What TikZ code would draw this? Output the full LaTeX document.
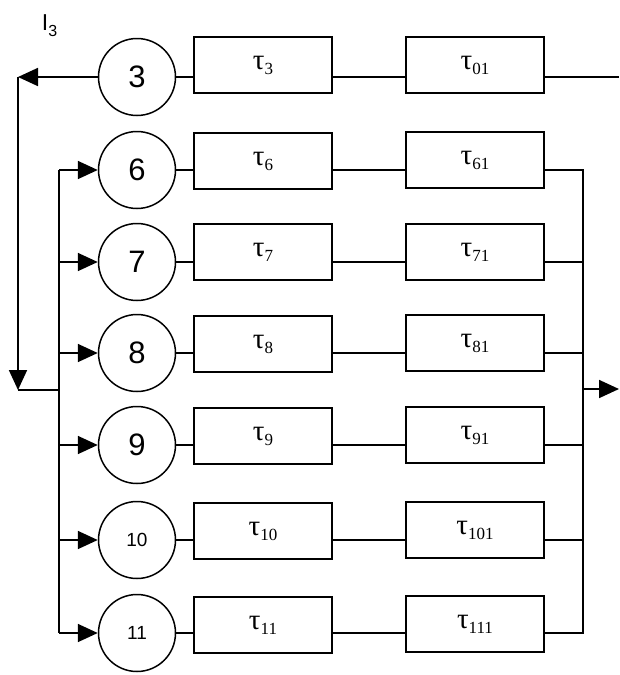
\documentclass[tikz,border=0pt]{standalone}
\usepackage{fontspec}
\setmainfont{Liberation Serif}
\setsansfont{Liberation Sans}
\usetikzlibrary{arrows.meta}
\newcommand\tlab[1]{τ\raisebox{-5pt}{\fontsize{17}{17}\selectfont #1}}
\begin{document}
\begin{tikzpicture}[x=1pt,y=-1pt,line width=1.8pt,
  circ/.style={circle,draw,line width=1.5pt,minimum size=77pt,inner sep=0pt,font=\sffamily\fontsize{31}{31}\selectfont},
  smallcirc/.style={circ,font=\sffamily\fontsize{19}{19}\selectfont},
  blk/.style={draw,minimum width=138pt,minimum height=56pt,inner sep=0pt,font=\fontsize{29}{29}\selectfont},
  arr/.style={-{Triangle[length=20pt,width=18pt]}}]
\useasboundingbox (0,0) rectangle (619,675);

% label
\node[font=\sffamily,anchor=north west,inner sep=0pt] (lbl) at (41,14)
  {\fontsize{23}{23}\selectfont I\raisebox{-6pt}{\fontsize{16}{16}\selectfont 3}};

% circles
\node[circ] (c3) at (137,77) {3};
\node[circ] (c6) at (137,170) {6};
\node[circ] (c7) at (137,262) {7};
\node[circ] (c8) at (137,353) {8};
\node[circ] (c9) at (137,445) {9};
\node[smallcirc] (c10) at (137,540) {10};
\node[smallcirc] (c11) at (137,633) {11};

% boxes
\node[blk] (a3) at (263,65) {\tlab{3}};
\node[blk] (b3) at (475,65) {\tlab{01}};
\node[blk] (a6) at (263,161) {\tlab{6}};
\node[blk] (b6) at (475,160) {\tlab{61}};
\node[blk] (a7) at (263,252) {\tlab{7}};
\node[blk] (b7) at (475,252) {\tlab{71}};
\node[blk] (a8) at (263,344) {\tlab{8}};
\node[blk] (b8) at (475,343) {\tlab{81}};
\node[blk] (a9) at (263,436) {\tlab{9}};
\node[blk] (b9) at (475,435) {\tlab{91}};
\node[blk] (a10) at (263,531) {\tlab{10}};
\node[blk] (b10) at (475,530) {\tlab{101}};
\node[blk] (a11) at (263,625) {\tlab{11}};
\node[blk] (b11) at (475,624) {\tlab{111}};

% row connectors
\foreach \i in {3,6,7,8,9,10,11}{
  \draw (c\i.east) -- (c\i.east -| a\i.west);
  \draw (a\i.east |- c\i) -- (b\i.west |- c\i);
}

% top output line
\coordinate (topend) at (619,77);
\draw (b3.east |- c3) -- (topend);

% feedback
\coordinate (fbt) at (18,77);
\coordinate (fbb) at (18,390);
\coordinate (lbusj) at (59,390);
\draw[arr] (c3.west) -- (fbt);
\draw[arr] (fbt) -- (fbb);
\draw (fbb) -- (lbusj);

% left bus
\coordinate (lt) at (59,170);
\coordinate (lb) at (59,633);
\draw (lt) -- (lb);
\foreach \i in {6,7,8,9,10,11}{
  \draw[arr] (lt |- c\i) -- (c\i.west);
}

% right bus
\coordinate (rt) at (583,170);
\coordinate (rb) at (583,633);
\draw (b6.east |- c6) -- (rt) -- (rb) -- (b11.east |- c11);
\foreach \i in {7,8,9,10}{
  \draw (b\i.east |- c\i) -- (rt |- c\i);
}
\coordinate (out) at (619,389);
\draw[arr] (rt |- out) -- (out);
\end{tikzpicture}
\end{document}
